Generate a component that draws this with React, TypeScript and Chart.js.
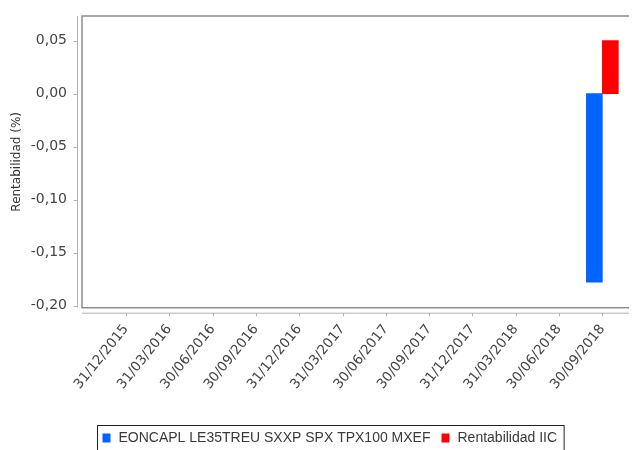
import React, { useEffect, useRef } from "react";
import { Chart, registerables } from "chart.js";

Chart.register(...registerables);

const categories = [
  "31/12/2015", "31/03/2016", "30/06/2016", "30/09/2016",
  "31/12/2016", "31/03/2017", "30/06/2017", "30/09/2017",
  "31/12/2017", "31/03/2018", "30/06/2018", "30/09/2018",
];
const benchmarkLabel = "EONCAPL LE35TREU SXXP SPX TPX100 MXEF";
const fundLabel = "Rentabilidad IIC";
const benchmarkValues: (number | null)[] = [null, null, null, null, null, null, null, null, null, null, null, -0.178];
const fundValues: (number | null)[] = [null, null, null, null, null, null, null, null, null, null, null, 0.05];
const yTickValues = [-0.2, -0.15, -0.1, -0.05, 0, 0.05];
const yTickLabels = ["-0,20", "-0,15", "-0,10", "-0,05", "0,00", "0,05"];
const yTitle = "Rentabilidad (%)";

const toPoints = (vals: (number | null)[]) =>
  vals.map((v, i) => (v === null ? null : { x: i, y: v })).filter((p) => p !== null);

const framePlugin = {
  id: "frame",
  afterDatasetsDraw(chart: any) {
    const { ctx, chartArea, scales } = chart;
    const { left, top, right, bottom } = chartArea;
    ctx.save();
    ctx.strokeStyle = "#8c8c8c";
    ctx.lineWidth = 1.5;
    ctx.strokeRect(left, top, right - left + 2, bottom - top);
    ctx.strokeStyle = "#b4b4b4";
    ctx.lineWidth = 1;
    const ax = left - 5 + 0.5;
    ctx.beginPath();
    ctx.moveTo(ax, top);
    ctx.lineTo(ax, bottom);
    scales.y.ticks.forEach((_t: any, i: number) => {
      const py = Math.round(scales.y.getPixelForTick(i)) + 0.5;
      ctx.moveTo(ax - 4, py);
      ctx.lineTo(ax, py);
    });
    ctx.stroke();
    const ay = bottom + 5 + 0.5;
    ctx.beginPath();
    ctx.moveTo(left, ay);
    ctx.lineTo(right, ay);
    scales.x.ticks.forEach((_t: any, i: number) => {
      const px = Math.round(scales.x.getPixelForTick(i)) + 0.5;
      ctx.moveTo(px, ay);
      ctx.lineTo(px, ay + 3);
    });
    ctx.stroke();
    ctx.restore();
  },
};

const legendPlugin = {
  id: "boxLegend",
  afterDraw(chart: any) {
    const ctx = chart.ctx;
    ctx.save();
    ctx.font = '14px "Liberation Sans"';
    const items = chart.data.datasets.map((ds: any) => ({ label: ds.label, color: ds.backgroundColor }));
    const left = 89.5;
    const top = 417.5;
    const sq = 8;
    const padL = 5;
    const gapText = 8;
    const gapItem = 11;
    const padR = 7;
    let x = left + padL;
    const midY = 430;
    ctx.textBaseline = "middle";
    ctx.textAlign = "left";
    items.forEach((it: any, i: number) => {
      ctx.fillStyle = it.color;
      ctx.fillRect(x, midY - sq / 2 - 0.5, sq, sq + 1);
      x += sq + gapText;
      ctx.fillStyle = "#3a3a3a";
      ctx.fillText(it.label, x, midY + 0.5);
      x += ctx.measureText(it.label).width;
      if (i < items.length - 1) x += gapItem;
    });
    x += padR;
    ctx.strokeStyle = "#222";
    ctx.lineWidth = 1;
    ctx.strokeRect(left, top, x - left, 40);
    ctx.restore();
  },
};

export default function App() {
  const ref = useRef<HTMLCanvasElement>(null);
  useEffect(() => {
    if (!ref.current) return;
    const chart = new Chart(ref.current, {
      type: "bar",
      data: {
        datasets: [
          {
            label: benchmarkLabel,
            data: toPoints(benchmarkValues) as any,
            backgroundColor: "#0064ff",
            borderWidth: 0,
            barThickness: 16,
          },
          {
            label: fundLabel,
            data: toPoints(fundValues) as any,
            backgroundColor: "#ff0000",
            borderWidth: 0,
            barThickness: 16,
          },
        ],
      },
      options: {
        animation: false,
        responsive: false,
        devicePixelRatio: 1,
        layout: { padding: { left: 0, right: 0, top: 8, bottom: 0 } },
        plugins: { legend: { display: false }, tooltip: { enabled: false } },
        scales: {
          x: {
            type: "linear",
            offset: false,
            min: -1.016,
            max: 11.8,
            grid: { display: false, drawTicks: false },
            border: { display: false },
            afterBuildTicks: (scale: any) => {
              scale.ticks = categories.map((_c, i) => ({ value: i }));
            },
            afterFit: (scale: any) => {
              scale.height = 142.3;
              scale.paddingLeft = 0;
              scale.paddingRight = 0;
            },
            ticks: {
              autoSkip: false,
              minRotation: 51,
              maxRotation: 51,
              padding: 5,
              color: "#444",
              font: { family: "DejaVu Sans", size: 13.5, lineHeight: 3.3 },
              callback: (value: any) => categories[Math.round(Number(value))] ?? "",
            },
          },
          y: {
            min: -0.202,
            max: 0.0733,
            grid: { display: false, drawTicks: false },
            border: { display: false },
            afterBuildTicks: (scale: any) => {
              scale.ticks = yTickValues.map((v) => ({ value: v }));
            },
            afterFit: (scale: any) => {
              scale.width = 74;
              scale.paddingTop = 0;
              scale.paddingBottom = 0;
            },
            ticks: {
              padding: 15,
              color: "#444",
              font: { family: "DejaVu Sans", size: 14 },
              callback: (value: any) => {
                const idx = yTickValues.findIndex((v) => Math.abs(v - Number(value)) < 1e-9);
                return idx >= 0 ? yTickLabels[idx] : "";
              },
            },
            title: {
              display: true,
              text: yTitle,
              color: "#333",
              font: { family: "DejaVu Sans", size: 12 },
              padding: { top: 2, bottom: 0 },
            },
          },
        },
      },
      plugins: [framePlugin, legendPlugin],
    });
    return () => chart.destroy();
  }, []);
  return (
    <div style={{ width: 629, height: 442, overflow: "hidden" }}>
      <canvas ref={ref} width={629} height={442} style={{ display: "block" }} />
    </div>
  );
}
